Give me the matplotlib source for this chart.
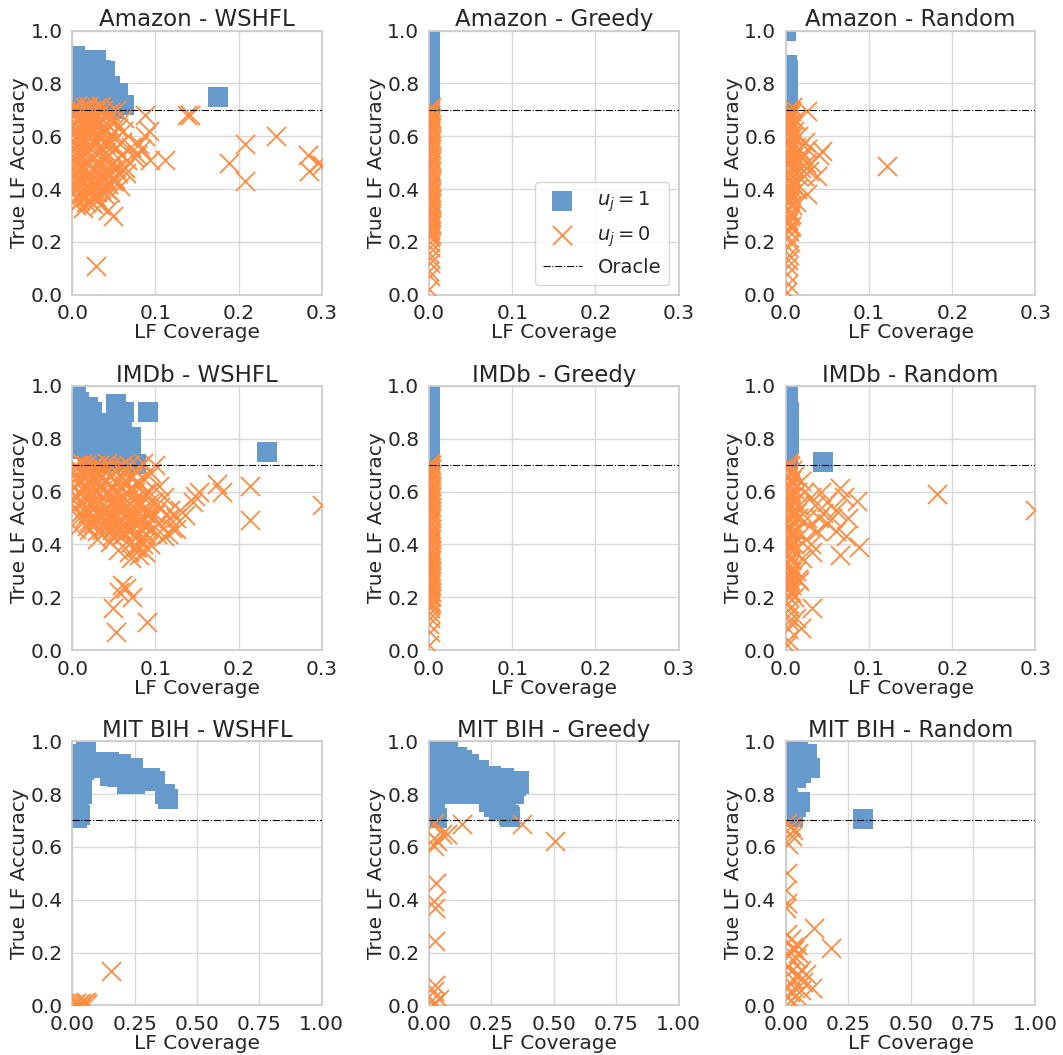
"""LF coverage vs. true LF accuracy, 3x3 grid."""

import numpy as np
import matplotlib
matplotlib.use('Agg')
import matplotlib.pyplot as plt  # noqa: E402
import seaborn as sns  # noqa: E402

# ----------------------------------------------------------------------------
# Data: (coverage, accuracy) pairs

# u_j = 1 (selected) and u_j = 0 (rejected)
amazon_wshfl_pos = [
    (0.003, 0.905), (0.010, 0.89), (0.018, 0.888), (0.028, 0.889),
    (0.022, 0.86), (0.035, 0.85), (0.039, 0.846), (0.005, 0.83),
    (0.015, 0.82), (0.030, 0.80), (0.045, 0.79), (0.055, 0.764),
    (0.048, 0.75), (0.040, 0.73), (0.062, 0.72), (0.050, 0.705),
    (0.010, 0.76), (0.020, 0.74), (0.005, 0.71), (0.028, 0.72),
    (0.033, 0.77), (0.175, 0.75),
]
amazon_wshfl_neg = [
    (0.002, 0.71), (0.008, 0.70), (0.015, 0.71), (0.022, 0.70),
    (0.030, 0.71), (0.037, 0.70), (0.045, 0.69), (0.052, 0.70),
    (0.004, 0.66), (0.011, 0.67), (0.018, 0.65), (0.026, 0.66),
    (0.034, 0.67), (0.041, 0.65), (0.050, 0.66),
    (0.002, 0.62), (0.009, 0.61), (0.016, 0.63), (0.024, 0.62),
    (0.031, 0.60), (0.039, 0.62), (0.047, 0.61), (0.055, 0.63),
    (0.005, 0.57), (0.012, 0.58), (0.020, 0.56), (0.028, 0.57),
    (0.036, 0.55), (0.044, 0.57), (0.052, 0.56), (0.060, 0.58),
    (0.002, 0.52), (0.010, 0.53), (0.017, 0.51), (0.025, 0.52),
    (0.033, 0.50), (0.041, 0.52), (0.049, 0.50), (0.058, 0.53),
    (0.066, 0.51), (0.006, 0.47), (0.013, 0.48), (0.021, 0.46),
    (0.029, 0.47), (0.037, 0.45), (0.046, 0.47), (0.055, 0.46),
    (0.063, 0.48), (0.003, 0.42), (0.010, 0.43), (0.018, 0.41),
    (0.026, 0.42), (0.034, 0.40), (0.043, 0.42), (0.051, 0.44),
    (0.005, 0.37), (0.012, 0.38), (0.020, 0.36), (0.028, 0.37),
    (0.038, 0.38), (0.004, 0.34), (0.013, 0.33), (0.022, 0.35),
    (0.005, 0.69), (0.012, 0.68), (0.019, 0.69), (0.026, 0.68),
    (0.033, 0.69), (0.040, 0.68), (0.007, 0.64), (0.014, 0.64),
    (0.021, 0.635), (0.029, 0.64), (0.037, 0.64), (0.045, 0.635),
    (0.004, 0.60), (0.012, 0.595), (0.020, 0.60), (0.027, 0.59),
    (0.035, 0.60), (0.043, 0.59), (0.051, 0.59), (0.008, 0.55),
    (0.015, 0.545), (0.023, 0.55), (0.031, 0.54), (0.040, 0.54),
    (0.048, 0.54), (0.004, 0.50), (0.012, 0.49), (0.020, 0.50),
    (0.029, 0.49), (0.037, 0.48), (0.045, 0.49), (0.053, 0.48),
    (0.008, 0.45), (0.016, 0.445), (0.024, 0.44), (0.032, 0.44),
    (0.040, 0.44), (0.049, 0.43), (0.006, 0.40), (0.014, 0.395),
    (0.022, 0.39), (0.030, 0.39), (0.040, 0.40), (0.008, 0.355),
    (0.016, 0.35), (0.025, 0.345), (0.002, 0.68), (0.002, 0.64),
    (0.002, 0.58), (0.002, 0.55), (0.002, 0.48), (0.002, 0.45),
    (0.002, 0.39), (0.006, 0.715), (0.019, 0.715), (0.034, 0.715),
    (0.009, 0.675), (0.023, 0.675), (0.037, 0.66), (0.006, 0.625),
    (0.020, 0.62), (0.034, 0.625), (0.009, 0.575), (0.024, 0.58),
    (0.039, 0.575), (0.006, 0.525), (0.021, 0.525), (0.036, 0.525),
    (0.009, 0.475), (0.024, 0.475), (0.040, 0.465), (0.006, 0.425),
    (0.021, 0.425), (0.036, 0.425), (0.009, 0.38), (0.024, 0.40),
    (0.017, 0.37), (0.030, 0.36),
    (0.028, 0.11), (0.0485, 0.30), (0.0425, 0.32), (0.033, 0.34),
    (0.045, 0.39), (0.057, 0.41), (0.064, 0.46), (0.074, 0.52),
    (0.070, 0.56), (0.061, 0.62), (0.062, 0.67), (0.088, 0.68),
    (0.092, 0.62), (0.088, 0.60), (0.080, 0.57), (0.094, 0.51),
    (0.112, 0.51), (0.138, 0.68), (0.142, 0.68), (0.188, 0.50),
    (0.208, 0.57), (0.208, 0.43), (0.2455, 0.60), (0.283, 0.53),
    (0.285, 0.47), (0.295, 0.50), (0.300, 0.49), (0.083, 0.55),
    (0.078, 0.53),
]

amazon_greedy_pos = [
    (0.001, 0.72), (0.0015, 0.75), (0.001, 0.78), (0.0015, 0.81),
    (0.001, 0.84), (0.0015, 0.87), (0.001, 0.90), (0.0015, 0.93),
    (0.001, 0.96), (0.0015, 0.99),
]
amazon_greedy_neg = [
    (0.0005, 0.02), (0.001, 0.07), (0.0005, 0.09), (0.0015, 0.12),
    (0.001, 0.14), (0.0005, 0.16), (0.0015, 0.18), (0.001, 0.20),
    (0.001, 0.22), (0.002, 0.23), (0.0005, 0.24), (0.0015, 0.25),
    (0.001, 0.26), (0.002, 0.27), (0.0005, 0.28), (0.0015, 0.29),
    (0.001, 0.30), (0.002, 0.31), (0.0005, 0.32), (0.0015, 0.33),
    (0.001, 0.34), (0.002, 0.35), (0.0005, 0.36), (0.0015, 0.37),
    (0.001, 0.38), (0.002, 0.39), (0.0005, 0.40), (0.0015, 0.41),
    (0.001, 0.42), (0.002, 0.43), (0.0005, 0.44), (0.0015, 0.45),
    (0.001, 0.46), (0.002, 0.47), (0.0005, 0.48), (0.0015, 0.49),
    (0.001, 0.50), (0.002, 0.51), (0.0005, 0.52), (0.0015, 0.53),
    (0.001, 0.54), (0.002, 0.55), (0.0005, 0.56), (0.0015, 0.57),
    (0.001, 0.58), (0.002, 0.59), (0.0005, 0.60), (0.0015, 0.61),
    (0.001, 0.62), (0.002, 0.63), (0.0005, 0.64), (0.0015, 0.65),
    (0.001, 0.66), (0.002, 0.67), (0.0005, 0.68), (0.0015, 0.69),
    (0.001, 0.70), (0.002, 0.71),
    (0.0015, 0.225), (0.0005, 0.245), (0.002, 0.265), (0.001, 0.285),
    (0.0015, 0.305), (0.0005, 0.325), (0.002, 0.345), (0.001, 0.365),
    (0.0015, 0.385), (0.0005, 0.405), (0.002, 0.425), (0.001, 0.445),
    (0.0015, 0.465), (0.0005, 0.485), (0.002, 0.505), (0.001, 0.525),
    (0.0015, 0.545), (0.0005, 0.565), (0.002, 0.585), (0.001, 0.605),
    (0.0015, 0.625), (0.0005, 0.645), (0.002, 0.665), (0.001, 0.685),
    (0.0015, 0.705),
]

amazon_random_pos = [
    (0.000, 1.00), (0.001, 0.87), (0.002, 0.85), (0.001, 0.82),
    (0.002, 0.79), (0.001, 0.76), (0.002, 0.73), (0.001, 0.71),
]
amazon_random_neg = [
    (0.001, 0.01), (0.002, 0.04), (0.001, 0.08), (0.003, 0.11),
    (0.002, 0.13), (0.004, 0.15), (0.003, 0.18), (0.005, 0.20),
    (0.002, 0.22), (0.004, 0.24), (0.006, 0.26), (0.003, 0.28),
    (0.005, 0.30), (0.002, 0.32), (0.007, 0.34), (0.004, 0.36),
    (0.006, 0.38), (0.003, 0.40), (0.008, 0.42), (0.005, 0.44),
    (0.002, 0.46), (0.007, 0.48), (0.004, 0.50), (0.009, 0.52),
    (0.003, 0.54), (0.006, 0.56), (0.002, 0.58), (0.008, 0.60),
    (0.004, 0.62), (0.006, 0.64), (0.002, 0.66), (0.005, 0.68),
    (0.003, 0.70), (0.007, 0.71), (0.001, 0.25), (0.003, 0.27),
    (0.001, 0.29), (0.004, 0.31), (0.001, 0.33), (0.003, 0.35),
    (0.001, 0.37), (0.004, 0.39), (0.001, 0.41), (0.003, 0.43),
    (0.001, 0.45), (0.004, 0.47), (0.001, 0.49), (0.003, 0.51),
    (0.001, 0.53), (0.004, 0.55), (0.001, 0.57), (0.003, 0.59),
    (0.001, 0.61), (0.004, 0.63), (0.001, 0.65), (0.003, 0.67),
    (0.001, 0.69), (0.005, 0.255), (0.006, 0.305), (0.005, 0.355),
    (0.006, 0.405), (0.005, 0.455), (0.006, 0.505), (0.005, 0.555),
    (0.006, 0.605), (0.005, 0.655), (0.006, 0.695),
    (0.012, 0.50), (0.014, 0.45),
    (0.016, 0.55), (0.013, 0.40), (0.018, 0.48), (0.020, 0.52),
    (0.022, 0.45), (0.024, 0.50), (0.026, 0.55), (0.023, 0.58),
    (0.026, 0.697), (0.044, 0.545), (0.040, 0.53), (0.038, 0.45),
    (0.026, 0.381), (0.028, 0.47), (0.030, 0.50), (0.1217, 0.486),
    (0.015, 0.60), (0.012, 0.35), (0.010, 0.62), (0.011, 0.66),
    (0.012, 0.56), (0.016, 0.51),
]

imdb_wshfl_pos = [
    (0.005, 0.97), (0.008, 0.94), (0.019, 0.92), (0.024, 0.90),
    (0.005, 0.90), (0.012, 0.87), (0.030, 0.85), (0.040, 0.86),
    (0.052, 0.93), (0.062, 0.90), (0.060, 0.85), (0.050, 0.82),
    (0.071, 0.806), (0.065, 0.77), (0.077, 0.704), (0.070, 0.74),
    (0.060, 0.72), (0.040, 0.78), (0.025, 0.80), (0.010, 0.82),
    (0.005, 0.76), (0.020, 0.72), (0.035, 0.73), (0.045, 0.71),
    (0.0915, 0.903), (0.234, 0.749), (0.015, 0.77), (0.030, 0.76),
    (0.050, 0.76),
]
imdb_wshfl_neg = [
    (0.003, 0.70), (0.012, 0.71), (0.022, 0.69), (0.032, 0.70),
    (0.042, 0.71), (0.055, 0.69), (0.068, 0.70), (0.080, 0.69),
    (0.085, 0.71), (0.100, 0.70), (0.006, 0.66), (0.016, 0.67),
    (0.026, 0.65), (0.036, 0.66), (0.048, 0.67), (0.060, 0.65),
    (0.072, 0.66), (0.085, 0.65), (0.095, 0.67), (0.002, 0.62),
    (0.012, 0.61), (0.022, 0.63), (0.032, 0.62), (0.044, 0.60),
    (0.056, 0.62), (0.068, 0.61), (0.080, 0.63), (0.092, 0.60),
    (0.104, 0.62), (0.006, 0.58), (0.016, 0.57), (0.026, 0.59),
    (0.038, 0.58), (0.050, 0.56), (0.062, 0.58), (0.074, 0.57),
    (0.086, 0.59), (0.098, 0.56), (0.110, 0.58), (0.003, 0.54),
    (0.013, 0.53), (0.024, 0.55), (0.035, 0.54), (0.046, 0.52),
    (0.058, 0.54), (0.070, 0.53), (0.082, 0.55), (0.094, 0.52),
    (0.106, 0.54), (0.118, 0.53), (0.008, 0.50), (0.020, 0.49),
    (0.032, 0.51), (0.044, 0.50), (0.056, 0.48), (0.068, 0.50),
    (0.080, 0.49), (0.092, 0.51), (0.104, 0.48), (0.116, 0.50),
    (0.004, 0.46), (0.018, 0.47), (0.030, 0.45), (0.042, 0.46),
    (0.054, 0.44), (0.066, 0.46), (0.078, 0.45), (0.090, 0.47),
    (0.102, 0.44), (0.125, 0.46), (0.030, 0.42), (0.045, 0.41),
    (0.058, 0.43), (0.070, 0.41), (0.082, 0.42), (0.094, 0.40),
    (0.110, 0.43), (0.055, 0.38), (0.068, 0.37), (0.078, 0.39),
    (0.088, 0.37), (0.070, 0.35), (0.080, 0.36),
    (0.008, 0.68), (0.018, 0.685), (0.028, 0.68), (0.038, 0.685),
    (0.050, 0.68), (0.062, 0.68), (0.075, 0.68), (0.010, 0.64),
    (0.020, 0.64), (0.030, 0.635), (0.040, 0.64), (0.053, 0.64),
    (0.065, 0.635), (0.078, 0.64), (0.007, 0.60), (0.017, 0.595),
    (0.028, 0.60), (0.040, 0.595), (0.052, 0.60), (0.064, 0.595),
    (0.076, 0.60), (0.088, 0.595), (0.010, 0.56), (0.022, 0.555),
    (0.033, 0.56), (0.045, 0.555), (0.056, 0.56), (0.068, 0.555),
    (0.080, 0.56), (0.092, 0.555), (0.008, 0.515), (0.019, 0.52),
    (0.030, 0.515), (0.040, 0.52), (0.052, 0.515), (0.063, 0.52),
    (0.075, 0.515), (0.087, 0.52), (0.099, 0.515), (0.025, 0.48),
    (0.038, 0.475), (0.050, 0.47), (0.062, 0.475), (0.074, 0.48),
    (0.086, 0.475), (0.048, 0.43), (0.062, 0.44), (0.075, 0.425),
    (0.087, 0.44), (0.075, 0.39), (0.085, 0.40),
    (0.005, 0.695), (0.017, 0.70), (0.027, 0.70), (0.046, 0.695),
    (0.060, 0.70), (0.005, 0.65), (0.015, 0.655), (0.025, 0.66),
    (0.045, 0.655), (0.058, 0.66), (0.070, 0.65), (0.005, 0.585),
    (0.015, 0.61), (0.025, 0.615), (0.036, 0.605), (0.048, 0.61),
    (0.060, 0.61), (0.072, 0.605), (0.015, 0.54), (0.028, 0.545),
    (0.040, 0.535), (0.052, 0.545), (0.064, 0.54), (0.076, 0.535),
    (0.088, 0.54), (0.014, 0.50), (0.026, 0.50), (0.038, 0.495),
    (0.050, 0.495), (0.062, 0.505), (0.074, 0.495), (0.086, 0.50),
    (0.020, 0.455), (0.036, 0.455), (0.048, 0.455), (0.060, 0.455),
    (0.072, 0.46), (0.084, 0.455), (0.096, 0.46),
    (0.0525, 0.07), (0.090, 0.107), (0.0485, 0.158), (0.0565, 0.221),
    (0.0645, 0.234), (0.0723, 0.2025), (0.060, 0.245), (0.148, 0.582),
    (0.152, 0.60), (0.145, 0.56), (0.174, 0.627), (0.180, 0.60),
    (0.2137, 0.62), (0.2137, 0.494), (0.300, 0.55), (0.136, 0.513),
    (0.120, 0.462), (0.125, 0.50), (0.115, 0.44), (0.130, 0.53),
]

imdb_greedy_pos = [
    (0.001, 0.72), (0.0015, 0.75), (0.001, 0.78), (0.0015, 0.81),
    (0.001, 0.84), (0.0015, 0.87), (0.001, 0.90), (0.0015, 0.93),
    (0.001, 0.96), (0.0015, 0.99),
]
imdb_greedy_neg = [
    (0.0005, 0.02), (0.001, 0.07), (0.0005, 0.10), (0.0015, 0.12),
    (0.001, 0.14), (0.0015, 0.16), (0.001, 0.17), (0.002, 0.18),
    (0.0005, 0.19), (0.0015, 0.20), (0.001, 0.21), (0.002, 0.22),
    (0.0005, 0.23), (0.0015, 0.24), (0.001, 0.25), (0.002, 0.26),
    (0.0005, 0.27), (0.0015, 0.28), (0.001, 0.29), (0.002, 0.30),
    (0.0005, 0.31), (0.0015, 0.32), (0.001, 0.33), (0.002, 0.34),
    (0.0005, 0.35), (0.0015, 0.36), (0.001, 0.37), (0.002, 0.38),
    (0.0005, 0.39), (0.0015, 0.40), (0.001, 0.41), (0.002, 0.42),
    (0.0005, 0.43), (0.0015, 0.44), (0.001, 0.45), (0.002, 0.46),
    (0.0005, 0.47), (0.0015, 0.48), (0.001, 0.49), (0.002, 0.50),
    (0.0005, 0.51), (0.0015, 0.52), (0.001, 0.53), (0.002, 0.54),
    (0.0005, 0.55), (0.0015, 0.56), (0.001, 0.57), (0.002, 0.58),
    (0.0005, 0.59), (0.0015, 0.60), (0.001, 0.61), (0.002, 0.62),
    (0.0005, 0.63), (0.0015, 0.64), (0.001, 0.65), (0.002, 0.66),
    (0.0005, 0.67), (0.0015, 0.68), (0.001, 0.69), (0.002, 0.70),
    (0.001, 0.71),
    (0.001, 0.185), (0.002, 0.205), (0.0005, 0.225), (0.0015, 0.245),
    (0.001, 0.265), (0.002, 0.285), (0.0005, 0.305), (0.0015, 0.325),
    (0.001, 0.345), (0.002, 0.365), (0.0005, 0.385), (0.0015, 0.405),
    (0.001, 0.425), (0.002, 0.445), (0.0005, 0.465), (0.0015, 0.485),
    (0.001, 0.505), (0.002, 0.525), (0.0005, 0.545), (0.0015, 0.565),
    (0.001, 0.585), (0.002, 0.605), (0.0005, 0.625), (0.0015, 0.645),
    (0.001, 0.665), (0.002, 0.685), (0.0005, 0.705),
]

imdb_random_pos = [
    (0.002, 0.99), (0.003, 0.96), (0.002, 0.93), (0.004, 0.90),
    (0.003, 0.87), (0.004, 0.84), (0.003, 0.81), (0.004, 0.78),
    (0.002, 0.75), (0.003, 0.72), (0.0452, 0.711),
]
imdb_random_neg = [
    (0.001, 0.02), (0.003, 0.04), (0.002, 0.08), (0.004, 0.11),
    (0.003, 0.13), (0.005, 0.16), (0.002, 0.18), (0.004, 0.20),
    (0.006, 0.22), (0.003, 0.24), (0.005, 0.26), (0.002, 0.28),
    (0.007, 0.30), (0.004, 0.32), (0.006, 0.34), (0.003, 0.36),
    (0.008, 0.38), (0.005, 0.40), (0.002, 0.42), (0.007, 0.44),
    (0.004, 0.46), (0.009, 0.48), (0.003, 0.50), (0.006, 0.52),
    (0.002, 0.54), (0.008, 0.56), (0.004, 0.58), (0.006, 0.60),
    (0.002, 0.62), (0.005, 0.64), (0.003, 0.66), (0.007, 0.68),
    (0.004, 0.70), (0.002, 0.71), (0.001, 0.21), (0.003, 0.23),
    (0.001, 0.25), (0.004, 0.27), (0.001, 0.29), (0.003, 0.31),
    (0.001, 0.33), (0.004, 0.35), (0.001, 0.37), (0.003, 0.39),
    (0.001, 0.41), (0.004, 0.43), (0.001, 0.45), (0.003, 0.47),
    (0.001, 0.49), (0.004, 0.51), (0.001, 0.53), (0.003, 0.55),
    (0.001, 0.57), (0.004, 0.59), (0.001, 0.61), (0.003, 0.63),
    (0.001, 0.65), (0.004, 0.67), (0.001, 0.69), (0.006, 0.245),
    (0.005, 0.295), (0.006, 0.345), (0.005, 0.395), (0.006, 0.445),
    (0.005, 0.495), (0.006, 0.545), (0.005, 0.595), (0.006, 0.645),
    (0.005, 0.695),
    (0.012, 0.30), (0.014, 0.27),
    (0.016, 0.26), (0.018, 0.083), (0.012, 0.12), (0.010, 0.20),
    (0.032, 0.158), (0.012, 0.45), (0.015, 0.50), (0.016, 0.55),
    (0.013, 0.60), (0.018, 0.64), (0.022, 0.60), (0.030, 0.58),
    (0.035, 0.55), (0.040, 0.50), (0.045, 0.52), (0.050, 0.48),
    (0.055, 0.50), (0.060, 0.53), (0.025, 0.50), (0.028, 0.47),
    (0.038, 0.45), (0.060, 0.45), (0.050, 0.56), (0.042, 0.60),
    (0.030, 0.40), (0.032, 0.37), (0.065, 0.614), (0.0857, 0.563),
    (0.0877, 0.392), (0.070, 0.58), (0.072, 0.43), (0.065, 0.36),
    (0.075, 0.50), (0.1815, 0.589), (0.300, 0.532), (0.020, 0.35),
    (0.024, 0.42), (0.010, 0.66), (0.012, 0.52), (0.010, 0.40),
]

mit_wshfl_pos = [
    (0.020, 0.71), (0.030, 0.72), (0.020, 0.75), (0.025, 0.78),
    (0.040, 0.80), (0.035, 0.83), (0.040, 0.86), (0.045, 0.89),
    (0.055, 0.92), (0.055, 0.96), (0.030, 0.95), (0.020, 0.90),
    (0.015, 0.85), (0.010, 0.80), (0.010, 0.76), (0.050, 0.90),
    (0.090, 0.91), (0.120, 0.92), (0.147, 0.92), (0.120, 0.90),
    (0.150, 0.87), (0.180, 0.866), (0.197, 0.914), (0.210, 0.88),
    (0.220, 0.84), (0.243, 0.90), (0.250, 0.84), (0.260, 0.86),
    (0.290, 0.85), (0.332, 0.851), (0.310, 0.86), (0.385, 0.782),
    (0.370, 0.80), (0.200, 0.89), (0.170, 0.90),
]
mit_wshfl_neg = [
    (0.155, 0.132), (0.005, 0.005), (0.015, 0.01), (0.025, 0.005),
    (0.035, 0.01), (0.045, 0.008), (0.055, 0.012), (0.060, 0.005),
]

mit_greedy_pos = [
    (0.020, 0.97), (0.050, 0.97), (0.077, 0.965), (0.110, 0.94),
    (0.130, 0.93), (0.160, 0.915), (0.200, 0.89), (0.250, 0.87),
    (0.300, 0.86), (0.340, 0.851), (0.359, 0.85), (0.359, 0.84),
    (0.020, 0.90), (0.060, 0.92), (0.100, 0.90), (0.150, 0.88),
    (0.200, 0.86), (0.250, 0.84), (0.300, 0.83), (0.350, 0.83),
    (0.020, 0.84), (0.060, 0.86), (0.100, 0.84), (0.150, 0.82),
    (0.200, 0.81), (0.250, 0.80), (0.300, 0.80), (0.340, 0.80),
    (0.020, 0.78), (0.050, 0.80), (0.100, 0.80), (0.150, 0.80),
    (0.200, 0.80), (0.020, 0.72), (0.030, 0.71), (0.025, 0.75),
    (0.240, 0.77), (0.260, 0.75), (0.280, 0.74), (0.300, 0.76),
    (0.320, 0.72), (0.326, 0.715), (0.310, 0.74),
]
mit_greedy_neg = [
    (0.503, 0.622), (0.371, 0.685), (0.133, 0.685), (0.053, 0.647),
    (0.033, 0.622), (0.020, 0.603), (0.020, 0.692), (0.073, 0.647),
    (0.020, 0.635), (0.027, 0.464), (0.020, 0.394), (0.025, 0.369),
    (0.025, 0.243), (0.025, 0.078), (0.020, 0.055), (0.010, 0.02),
    (0.025, 0.01), (0.040, 0.025), (0.015, 0.005),
]

mit_random_pos = [
    (0.029, 0.97), (0.010, 0.96), (0.050, 0.96), (0.086, 0.953),
    (0.095, 0.898), (0.070, 0.92), (0.060, 0.88), (0.030, 0.90),
    (0.010, 0.88), (0.006, 0.82), (0.010, 0.78), (0.055, 0.769),
    (0.040, 0.75), (0.020, 0.73), (0.010, 0.715), (0.030, 0.715),
    (0.310, 0.707), (0.040, 0.86), (0.050, 0.90),
]
mit_random_neg = [
    (0.113, 0.293), (0.180, 0.218), (0.106, 0.066), (0.060, 0.135),
    (0.033, 0.211), (0.045, 0.23), (0.003, 0.50), (0.002, 0.437),
    (0.003, 0.387), (0.002, 0.37), (0.020, 0.68), (0.030, 0.665),
    (0.015, 0.65), (0.025, 0.64), (0.010, 0.61), (0.005, 0.69),
    (0.020, 0.25), (0.030, 0.22), (0.010, 0.19), (0.040, 0.18),
    (0.050, 0.12), (0.030, 0.10), (0.020, 0.08), (0.060, 0.06),
    (0.040, 0.04), (0.010, 0.03), (0.030, 0.01), (0.080, 0.12),
    (0.070, 0.09), (0.050, 0.20), (0.020, 0.13), (0.005, 0.27),
    (0.008, 0.15), (0.015, 0.05),
]

titles = [
    'Amazon - WSHFL', 'Amazon - Greedy', 'Amazon - Random',
    'IMDb - WSHFL', 'IMDb - Greedy', 'IMDb - Random',
    'MIT BIH - WSHFL', 'MIT BIH - Greedy', 'MIT BIH - Random',
]
selected = [
    amazon_wshfl_pos, amazon_greedy_pos, amazon_random_pos,
    imdb_wshfl_pos, imdb_greedy_pos, imdb_random_pos,
    mit_wshfl_pos, mit_greedy_pos, mit_random_pos,
]
rejected = [
    amazon_wshfl_neg, amazon_greedy_neg, amazon_random_neg,
    imdb_wshfl_neg, imdb_greedy_neg, imdb_random_neg,
    mit_wshfl_neg, mit_greedy_neg, mit_random_neg,
]
max_coverage = [0.3, 0.3, 0.3, 0.3, 0.3, 0.3, 1.0, 1.0, 1.0]
oracle_accuracy = 0.7

# ----------------------------------------------------------------------------
# Style

sns.set_theme(style='whitegrid')
plt.rcParams['font.family'] = ['DejaVu Sans']
plt.rcParams['axes.edgecolor'] = '0.8'
plt.rcParams['grid.color'] = '0.85'

BLUE = '#6699cc'
ORANGE = '#ff8c40'

fig, axes = plt.subplots(3, 3, figsize=(10.63, 10.55), dpi=100)
fig.subplots_adjust(left=0.068, right=0.974, top=0.971, bottom=0.047,
                    wspace=0.43, hspace=0.345)

# Iterate and plot
for ax, title, pos, neg, xmax in zip(axes.flatten(), titles, selected,
                                     rejected, max_coverage):
    pos = np.array(pos)
    neg = np.array(neg)
    ax.scatter(pos[:, 0], pos[:, 1], s=190, marker='s', color=BLUE,
               linewidths=0, label=r'$u_j = 1$', zorder=2)
    ax.scatter(neg[:, 0], neg[:, 1], s=190, marker='x', color=ORANGE,
               linewidths=1.3, label=r'$u_j = 0$', zorder=3)
    ax.axhline(oracle_accuracy, color='black', linestyle='-.',
               linewidth=0.8, label='Oracle', zorder=4)

    # Format plot
    ax.set_xlim(0, xmax)
    ax.set_ylim(0, 1)
    ax.set_yticks([0.0, 0.2, 0.4, 0.6, 0.8, 1.0])
    if xmax < 0.5:
        ax.set_xticks([0.0, 0.1, 0.2, 0.3])
    else:
        ax.set_xticks([0.0, 0.25, 0.5, 0.75, 1.0])
    ax.tick_params(labelsize=14.5, pad=1)
    ax.set_xlabel('LF Coverage', fontsize=14.5, labelpad=0)
    ax.set_ylabel('True LF Accuracy', fontsize=14.5, labelpad=1)
    ax.set_title(title, fontsize=16.5, pad=3)

# Add the legend
axes[0, 1].legend(loc='lower right', fontsize=14, frameon=True)

fig.savefig('out.png', dpi=100)
